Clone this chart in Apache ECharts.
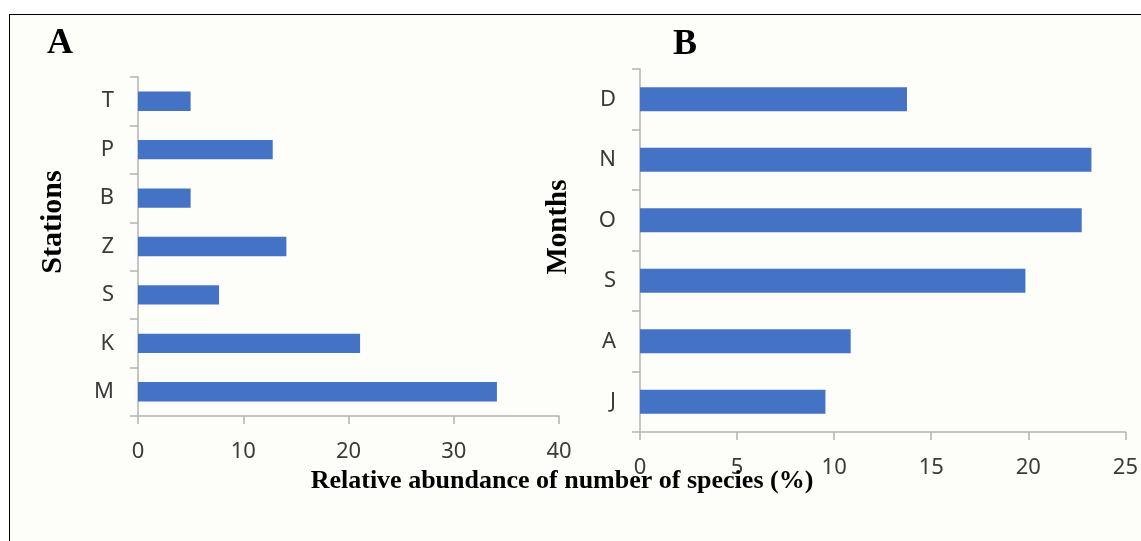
<!DOCTYPE html>
<html>
<head>
<meta charset="utf-8">
<script src="https://cdn.jsdelivr.net/npm/echarts@6/dist/echarts.min.js"></script>
<style>
  html, body { margin: 0; padding: 0; background: #ffffff; }
  #frame { position: absolute; left: 9px; top: 14px; width: 1200px; height: 600px;
           border-top: 1px solid #000; border-left: 1px solid #000; background: #FDFDF9; }
  #chart { position: absolute; left: 0; top: 0; width: 1141px; height: 541px; }
  body { width: 1141px; height: 541px; overflow: hidden; }
</style>
</head>
<body>
<div id="frame"></div>
<div id="chart"></div>
<script>
// Panel A: stations (bottom to top)
const stationCats = ['M', 'K', 'S', 'Z', 'B', 'P', 'T'];
const stationVals = [34.1, 21.1, 7.7, 14.1, 5.0, 12.8, 5.0];
// Panel B: months (bottom to top)
const monthCats = ['J', 'A', 'S', 'O', 'N', 'D'];
const monthVals = [9.55, 10.85, 19.85, 22.75, 23.25, 13.75];
// Axis settings
const stationTicks = { min: 0, max: 40, interval: 10 };
const monthTicks = { min: 0, max: 25, interval: 5 };

const BAR = '#4472C4';
const AXIS = '#B3B3B3';
const LABEL = '#3a3a3a';
const SANS = "'Noto Sans', 'Open Sans', sans-serif";
const SERIF = "'Liberation Serif', 'DejaVu Serif', serif";

const chart = echarts.init(document.getElementById('chart'), null, { renderer: 'canvas' });

function valAxis(idx, t, margin) {
  return {
    type: 'value', gridIndex: idx, min: t.min, max: t.max, interval: t.interval,
    splitLine: { show: false },
    axisLine: { show: true, lineStyle: { color: AXIS, width: 1.5 } },
    axisTick: { show: true, length: 8, lineStyle: { color: AXIS, width: 1.5 } },
    axisLabel: { color: LABEL, fontSize: 22, fontFamily: SANS, margin: margin }
  };
}
function catAxis(idx, cats) {
  return {
    type: 'category', gridIndex: idx, data: cats,
    axisLine: { show: true, lineStyle: { color: AXIS, width: 1.5 } },
    axisTick: { show: true, length: 8, alignWithLabel: false, lineStyle: { color: AXIS, width: 1.5 } },
    axisLabel: { color: LABEL, fontSize: 22, fontFamily: SANS, margin: 24 }
  };
}

chart.setOption({
  backgroundColor: 'transparent',
  animation: false,
  grid: [
    { left: 138, top: 77, width: 421, height: 339 },
    { left: 640, top: 69, width: 488, height: 363 }
  ],
  xAxis: [valAxis(0, stationTicks, 25), valAxis(1, monthTicks, 25)],
  yAxis: [catAxis(0, stationCats), catAxis(1, monthCats)],
  series: [
    { type: 'bar', xAxisIndex: 0, yAxisIndex: 0, data: stationVals,
      barCategoryGap: '60%', itemStyle: { color: BAR } },
    { type: 'bar', xAxisIndex: 1, yAxisIndex: 1, data: monthVals,
      barCategoryGap: '60%', itemStyle: { color: BAR } }
  ],
  graphic: [
    { type: 'text', x: 60, y: 44, style: { text: 'A', font: 'bold 36px ' + SERIF,
      fill: '#000', textAlign: 'center', textVerticalAlign: 'middle' } },
    { type: 'text', x: 685, y: 45, style: { text: 'B', font: 'bold 36px ' + SERIF,
      fill: '#000', textAlign: 'center', textVerticalAlign: 'middle' } },
    { type: 'text', x: 53.5, y: 222, rotation: Math.PI / 2,
      style: { text: 'Stations', font: 'bold 30px ' + SERIF, fill: '#000',
        textAlign: 'center', textVerticalAlign: 'middle' } },
    { type: 'text', x: 559, y: 227, rotation: Math.PI / 2,
      style: { text: 'Months', font: 'bold 29px ' + SERIF, fill: '#000',
        textAlign: 'center', textVerticalAlign: 'middle' } },
    { type: 'text', x: 562, y: 481, z: 100,
      style: { text: 'Relative abundance of number of species (%)', font: 'bold 26px ' + SERIF,
        fill: '#000', textAlign: 'center', textVerticalAlign: 'middle' } }
  ]
});
</script>
</body>
</html>
